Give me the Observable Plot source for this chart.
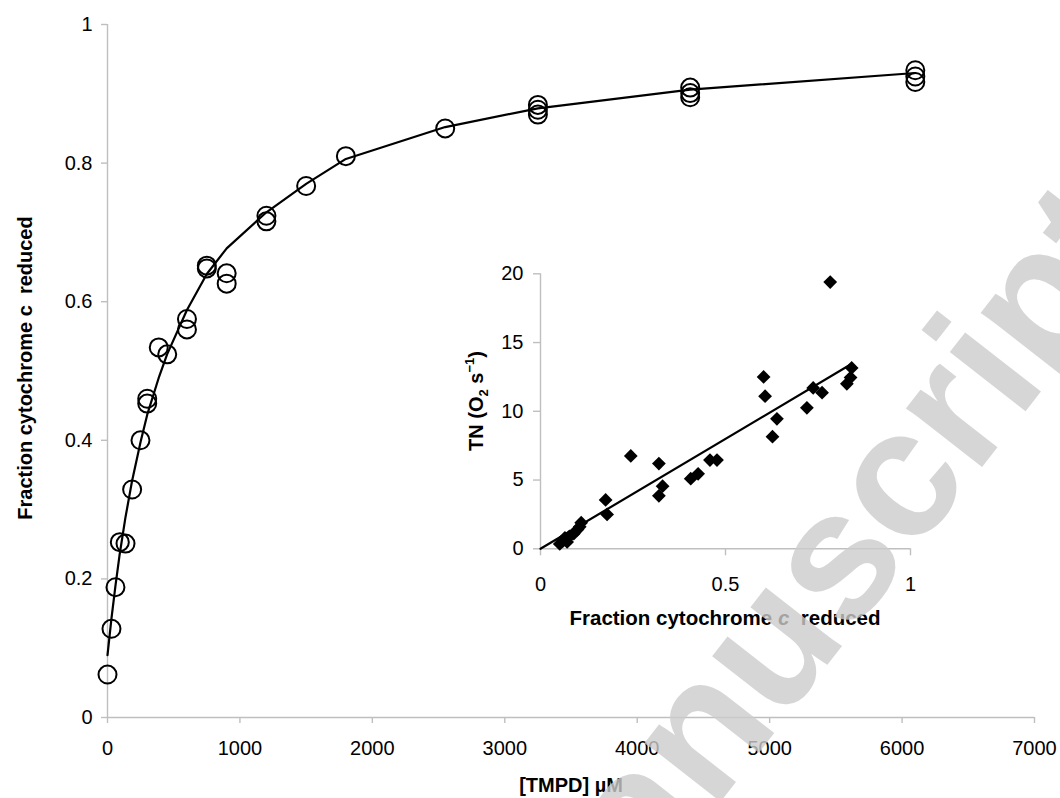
<!DOCTYPE html>
<html>
<head>
<meta charset="utf-8">
<script src="https://cdn.jsdelivr.net/npm/d3@7"></script>
<script src="https://cdn.jsdelivr.net/npm/@observablehq/plot@0.6"></script>
<style>
  body { margin: 0; background: #fff; }
  #wrap { position: relative; width: 1060px; height: 798px; overflow: hidden; background: #fff;
          font-family: "Liberation Sans", Arial, Helvetica, sans-serif; }
  #wrap > svg { position: absolute; max-width: none; }
  text { white-space: pre; }
</style>
</head>
<body>
<div id="wrap"></div>
<script>
// ---------- Main chart data: fraction of cytochrome c reduced vs [TMPD] ----------
const tmpd = [0, 30, 60, 93, 136, 186, 249, 300, 300, 387, 451, 600, 600, 750, 750, 900, 900, 1200, 1200, 1500, 1800, 2550, 3250, 3250, 3250, 4400, 4400, 4400, 6100, 6100, 6100];
const fracReduced = [0.062, 0.128, 0.188, 0.253, 0.251, 0.329, 0.400, 0.460, 0.453, 0.534, 0.524, 0.575, 0.560, 0.652, 0.648, 0.641, 0.626, 0.724, 0.716, 0.767, 0.810, 0.850, 0.884, 0.877, 0.870, 0.909, 0.901, 0.895, 0.934, 0.925, 0.917];

// fitted hyperbola as drawn
const fitTmpd = [0, 30, 60, 90, 135, 185, 250, 300, 390, 450, 600, 750, 900, 1200, 1500, 1800, 2550, 3250, 4400, 6100];
const fitFrac = [0.090, 0.143, 0.190, 0.233, 0.288, 0.341, 0.398, 0.437, 0.492, 0.524, 0.588, 0.640, 0.677, 0.729, 0.770, 0.806, 0.852, 0.879, 0.906, 0.930];

const mainXTicks = [0, 1000, 2000, 3000, 4000, 5000, 6000, 7000];
const mainYTicks = [0, 0.2, 0.4, 0.6, 0.8, 1];

// ---------- Inset data: turnover number vs fraction reduced ----------
const insetFrac = [0.052, 0.060, 0.066, 0.072, 0.078, 0.090, 0.100, 0.106, 0.110, 0.176, 0.180, 0.244, 0.320, 0.320, 0.330, 0.406, 0.426, 0.458, 0.477, 0.603, 0.607, 0.627, 0.639, 0.720, 0.737, 0.761, 0.783, 0.828, 0.838, 0.841];
const insetTN = [0.35, 0.55, 0.80, 0.50, 0.90, 1.10, 1.40, 1.60, 1.90, 3.55, 2.50, 6.75, 6.20, 3.85, 4.55, 5.10, 5.45, 6.45, 6.45, 12.50, 11.10, 8.15, 9.45, 10.25, 11.70, 11.35, 19.40, 12.00, 12.45, 13.15];
const insetFitFrac = [0, 0.838];
const insetFitTN = [0, 13.4];

const insetXTicks = [0, 0.5, 1];
const insetYTicks = [0, 5, 10, 15, 20];

// ---------- build tables ----------
const mainRows = tmpd.map((x, i) => ({x, y: fracReduced[i]}));
const fitRows = fitTmpd.map((x, i) => ({x, y: fitFrac[i]}));
const insetRows = insetFrac.map((x, i) => ({x, y: insetTN[i]}));
const insetFitRows = insetFitFrac.map((x, i) => ({x, y: insetFitTN[i]}));

const FONT = '"Liberation Sans", Arial, Helvetica, sans-serif';
const AXIS_GRAY = "#bfbfbf";
const wrap = document.getElementById("wrap");

// ---------- main plot ----------
const main = Plot.plot({
  width: 1060,
  height: 798,
  marginLeft: 107,
  marginRight: 26,
  marginTop: 24,
  marginBottom: 81,
  style: {fontFamily: FONT, fontSize: "20px", color: "#000", background: "transparent", overflow: "visible"},
  x: {domain: [0, 7000]},
  y: {domain: [0, 1]},
  marks: [
    Plot.ruleY([0], {stroke: AXIS_GRAY, strokeWidth: 1.4}),
    Plot.ruleX([0], {stroke: AXIS_GRAY, strokeWidth: 1.4}),
    Plot.axisX(mainXTicks, {tickSize: 6, tickPadding: 17, stroke: AXIS_GRAY, strokeWidth: 1.4, fill: "#000", tickFormat: d => String(d), label: null}),
    Plot.axisY(mainYTicks, {tickSize: 6, tickPadding: 9, stroke: AXIS_GRAY, strokeWidth: 1.4, fill: "#000", tickFormat: d => String(d), label: null}),
    Plot.line(fitRows, {x: "x", y: "y", stroke: "#000", strokeWidth: 2.2}),
    Plot.dot(mainRows, {x: "x", y: "y", r: 9, stroke: "#000", strokeWidth: 2, fill: "none"})
  ]
});
main.style.left = "0px";
main.style.top = "0px";
wrap.appendChild(main);

const ms = d3.select(main);
ms.append("text")
  .attr("transform", "translate(32,368) rotate(-90)")
  .attr("text-anchor", "middle")
  .attr("font-family", FONT).attr("font-size", 20).attr("font-weight", "bold").attr("fill", "#000")
  .text("Fraction cytochrome c  reduced");
ms.append("text")
  .attr("x", 571).attr("y", 792)
  .attr("text-anchor", "middle")
  .attr("font-family", FONT).attr("font-size", 20).attr("font-weight", "bold").attr("fill", "#000")
  .text("[TMPD] \u00B5M");

// ---------- inset plot ----------
const inset = Plot.plot({
  width: 460,
  height: 400,
  marginLeft: 80,
  marginRight: 10,
  marginTop: 33.3,
  marginBottom: 91.7,
  style: {fontFamily: FONT, fontSize: "20px", color: "#000", background: "transparent", overflow: "visible"},
  x: {domain: [0, 1]},
  y: {domain: [0, 20]},
  marks: [
    Plot.ruleY([0], {stroke: AXIS_GRAY, strokeWidth: 1.4}),
    Plot.ruleX([0], {stroke: AXIS_GRAY, strokeWidth: 1.4}),
    Plot.axisX(insetXTicks, {tickSize: 7, tickPadding: 21, stroke: AXIS_GRAY, strokeWidth: 1.4, fill: "#000", tickFormat: d => String(d), label: null}),
    Plot.axisY(insetYTicks, {tickSize: 7, tickPadding: 10, stroke: AXIS_GRAY, strokeWidth: 1.4, fill: "#000", tickFormat: d => String(d), label: null}),
    Plot.line(insetFitRows, {x: "x", y: "y", stroke: "#000", strokeWidth: 2.2}),
    Plot.dot(insetRows, {x: "x", y: "y", symbol: "diamond2", r: 6.2, fill: "#000", stroke: "none"})
  ]
});
inset.style.left = "460px";
inset.style.top = "240px";
wrap.appendChild(inset);

const is = d3.select(inset);
const ix = is.append("text")
  .attr("x", 265).attr("y", 385)
  .attr("text-anchor", "middle")
  .attr("font-family", FONT).attr("font-size", 20.5).attr("font-weight", "bold").attr("fill", "#000");
ix.append("tspan").text("Fraction cytochrome ");
ix.append("tspan").attr("font-style", "italic").text("c");
ix.append("tspan").text("  reduced");

const iy = is.append("text")
  .attr("transform", "translate(23,161) rotate(-90)")
  .attr("text-anchor", "middle")
  .attr("font-family", FONT).attr("font-size", 20).attr("font-weight", "bold").attr("fill", "#000");
iy.append("tspan").text("TN (O");
iy.append("tspan").attr("font-size", 13).attr("dy", 5).text("2");
iy.append("tspan").attr("dy", -5).text(" s");
iy.append("tspan").attr("font-size", 13).attr("dy", -9).text("\u22121");
iy.append("tspan").attr("dy", 9).text(")");

// ---------- watermark overlay ----------
const wm = d3.select(wrap).append("svg")
  .attr("width", 1060).attr("height", 798)
  .style("left", "0px").style("top", "0px").style("pointer-events", "none");
wm.append("text")
  .attr("transform", "translate(557,1011) rotate(-52)")
  .attr("font-family", FONT).attr("font-size", 182).attr("font-weight", "bold")
  .attr("fill", "#cccccc").attr("fill-opacity", 0.8)
  .text("Manuscript");
</script>
</body>
</html>
